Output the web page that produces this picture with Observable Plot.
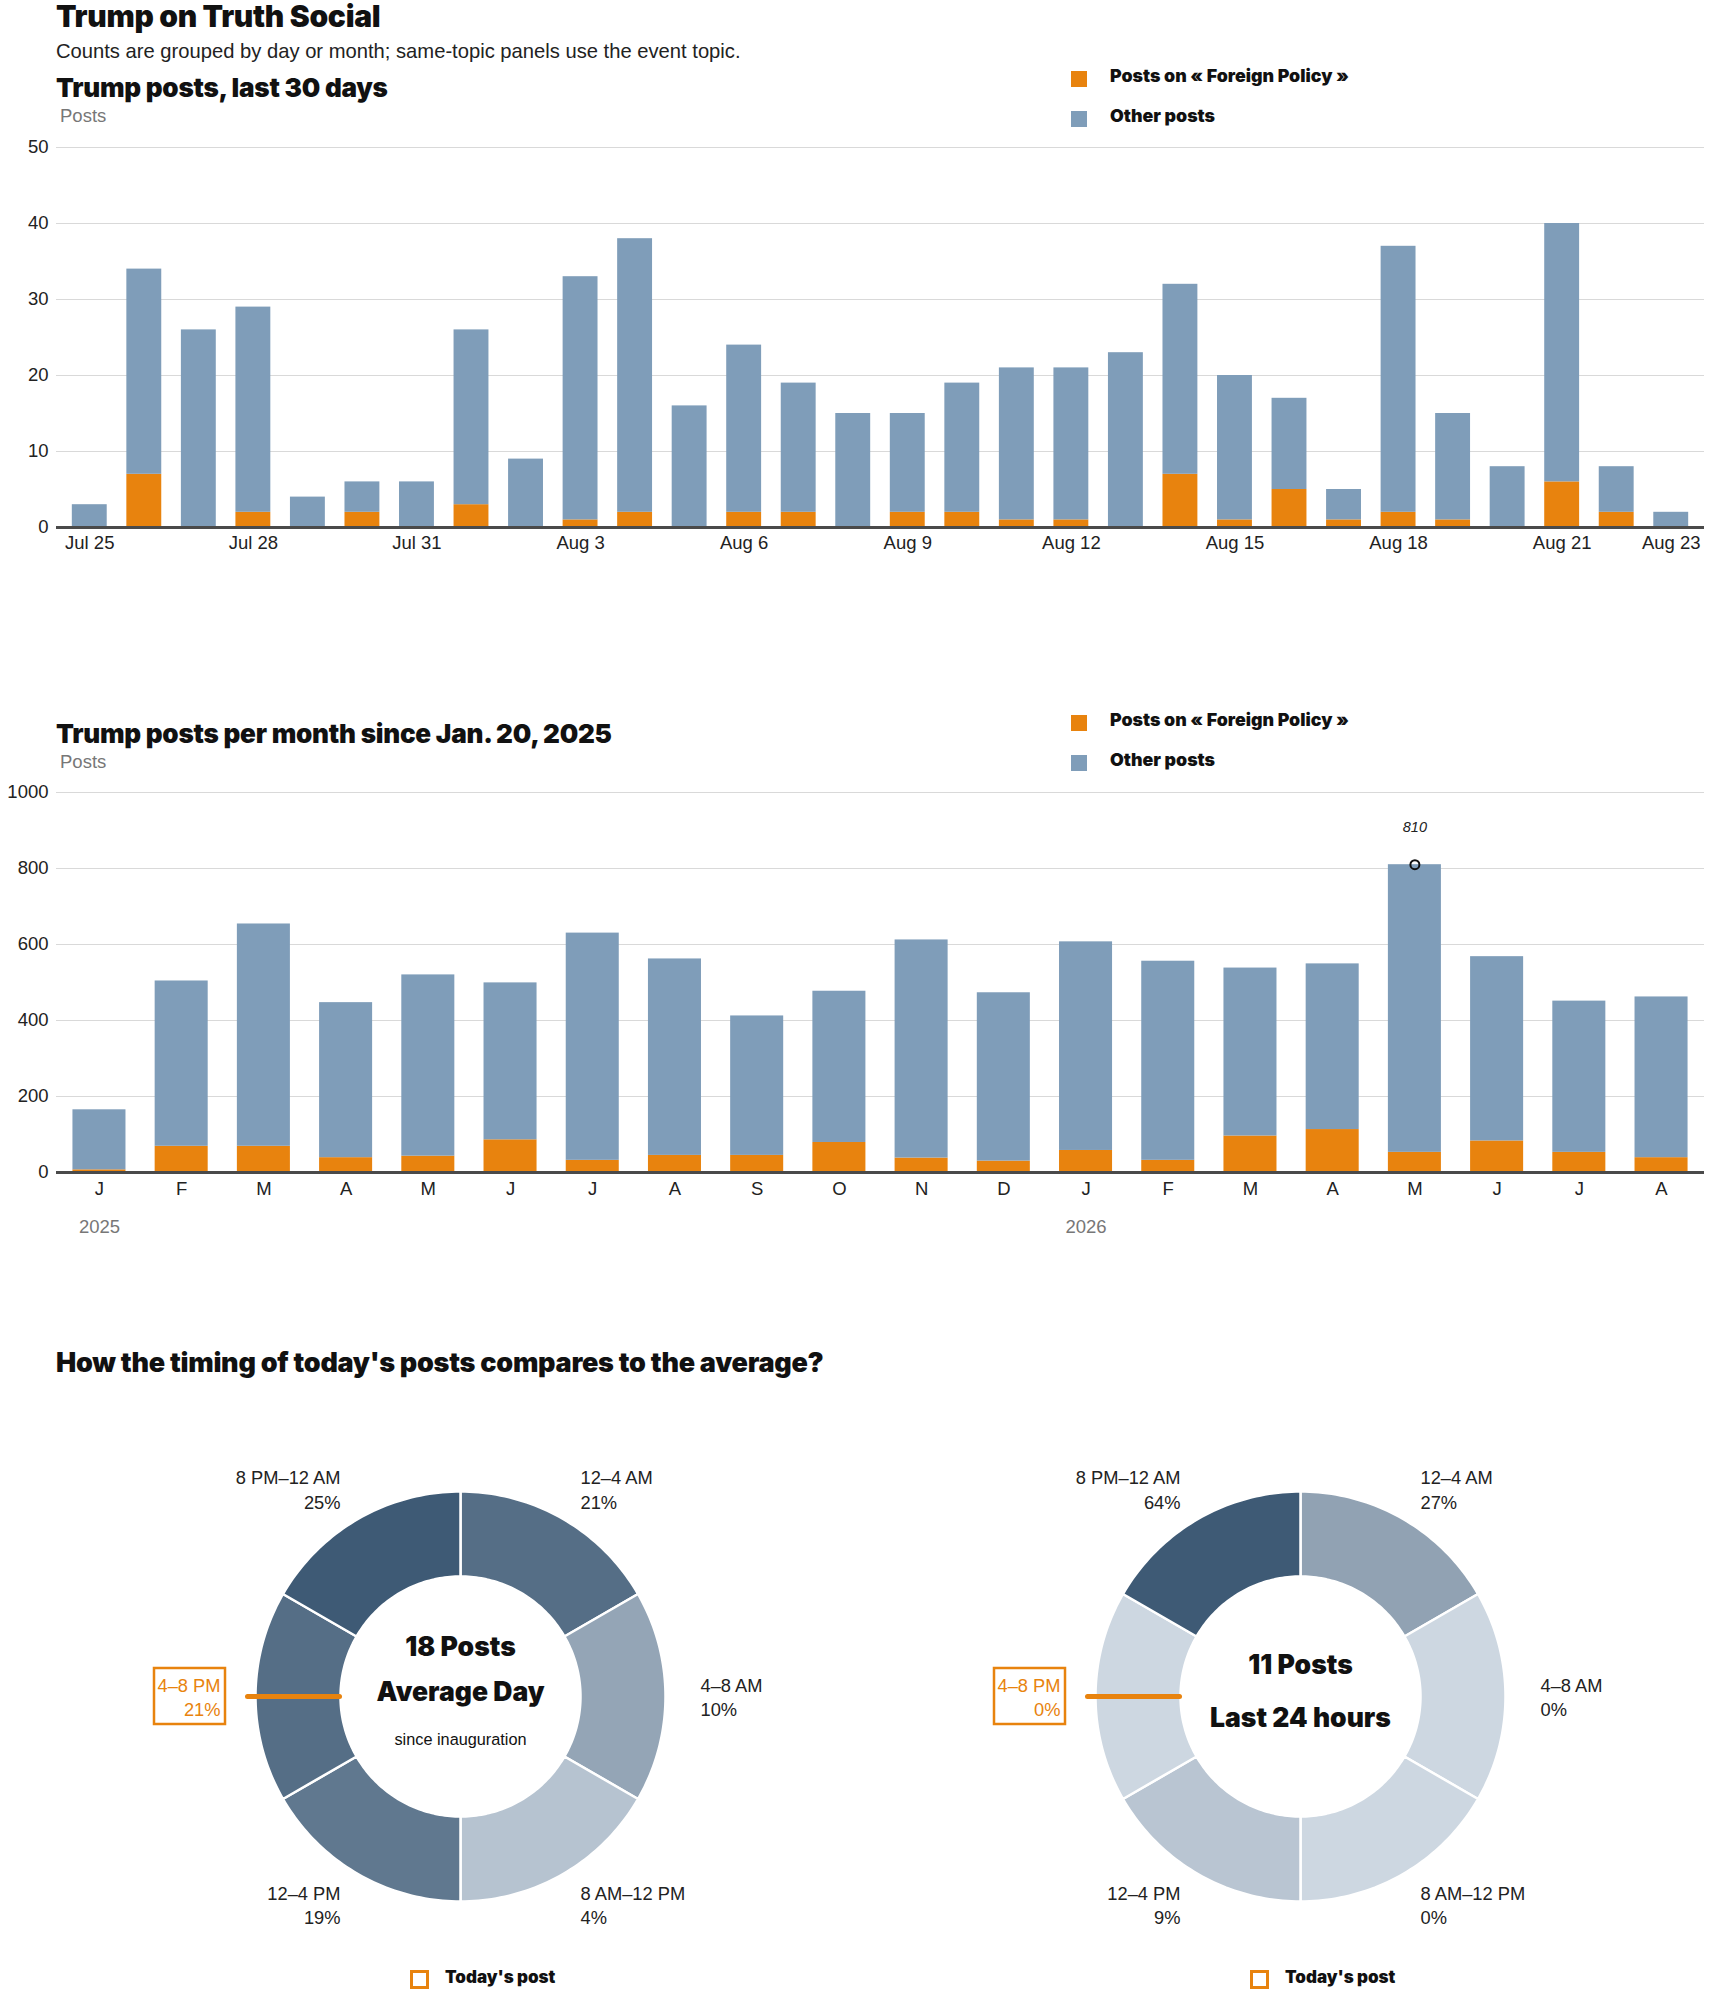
<!DOCTYPE html>
<html>
<head>
<meta charset="utf-8">
<script src="https://cdn.jsdelivr.net/npm/d3@7"></script>
<script src="https://cdn.jsdelivr.net/npm/@observablehq/plot@0.6"></script>
<style>
  html, body { margin: 0; padding: 0; background: #fff; }
  body { width: 1710px; height: 1993px; position: relative; overflow: hidden;
         font-family: "Liberation Sans", Arial, sans-serif; color: #111; }
  .abs { position: absolute; white-space: nowrap; }
  .head { font-family: Inter, "Liberation Sans", sans-serif; font-weight: 900; color: #111; letter-spacing: -0.01em; }
  .sub { font-size: 20.2px; color: #222; }
  .unit { font-size: 18.5px; color: #777; }
  .lg-sq { position: absolute; width: 16px; height: 16px; }
  .lg-tx { font-family: Inter, "Liberation Sans", sans-serif; font-weight: 900; font-size: 17.8px; color: #111; }
  .today-sq { position: absolute; width: 13px; height: 13px; border: 3px solid #e8830e; background: #fff; }
  svg { overflow: visible; }
</style>
</head>
<body>
<div id="root"></div>
<script>
// ---------------- DATA ----------------
const seriesNames = ["Posts on « Foreign Policy »", "Other posts"];

// Daily, last 30 days
const dayLabels = ["Jul 25","Jul 26","Jul 27","Jul 28","Jul 29","Jul 30","Jul 31",
  "Aug 1","Aug 2","Aug 3","Aug 4","Aug 5","Aug 6","Aug 7","Aug 8","Aug 9","Aug 10",
  "Aug 11","Aug 12","Aug 13","Aug 14","Aug 15","Aug 16","Aug 17","Aug 18","Aug 19",
  "Aug 20","Aug 21","Aug 22","Aug 23"];
const dailyTotal   = [3,34,26,29,4,6,6,26,9,33,38,16,24,19,15,15,19,21,21,23,32,20,17,5,37,15,8,40,8,2];
const dailyForeign = [0,7,0,2,0,2,0,3,0,1,2,0,2,2,0,2,2,1,1,0,7,1,5,1,2,1,0,6,2,0];
const dailyTickLabels = ["Jul 25","Jul 28","Jul 31","Aug 3","Aug 6","Aug 9","Aug 12","Aug 15","Aug 18","Aug 21","Aug 23"];
const dailyYTicks = [0,10,20,30,40,50];

// Monthly since Jan. 20, 2025
const monthKeys = ["2025-01","2025-02","2025-03","2025-04","2025-05","2025-06","2025-07","2025-08",
  "2025-09","2025-10","2025-11","2025-12","2026-01","2026-02","2026-03","2026-04","2026-05",
  "2026-06","2026-07","2026-08"];
const monthInitials = ["J","F","M","A","M","J","J","A","S","O","N","D","J","F","M","A","M","J","J","A"];
const monthlyTotal   = [165,504,654,447,520,499,630,562,412,477,612,473,607,556,538,549,810,568,451,462];
const monthlyForeign = [7,69,69,39,43,86,32,45,45,79,38,30,58,32,96,113,53,83,53,39];
const monthlyYTicks = [0,200,400,600,800,1000];
const yearTicks = ["2025-01","2026-01"];
const yearLabels = ["2025","2026"];

// Time-of-day donuts
const slotNames = ["12–4 AM","4–8 AM","8 AM–12 PM","12–4 PM","4–8 PM","8 PM–12 AM"];
const avgPct   = [21,10,4,19,21,25];
const todayPct = [27,0,0,9,0,64];
const avgPosts = 18;
const todayPosts = 11;
const currentSlot = "4–8 PM";

// ---------------- STYLE ----------------
const ORANGE = "#e8830e", BLUE = "#7f9db9";
const FONT = "'Liberation Sans', Arial, sans-serif";
const HFONT = "Inter, 'Liberation Sans', sans-serif";
const root = document.getElementById("root");

function addDiv(html, cls, left, top, extra = "") {
  const d = document.createElement("div");
  d.className = "abs " + cls;
  d.style.left = left + "px";
  d.style.top = top + "px";
  if (extra) d.style.cssText += extra;
  d.innerHTML = html;
  root.appendChild(d);
  return d;
}
function place(node, left, top) {
  const w = document.createElement("div");
  w.className = "abs";
  w.style.left = left + "px"; w.style.top = top + "px";
  w.appendChild(node); root.appendChild(w);
}
function legend(top) {
  const sq1 = document.createElement("div"); sq1.className = "lg-sq";
  sq1.style.cssText += `left:1071px;top:${top - 7}px;background:${ORANGE}`; root.appendChild(sq1);
  const sq2 = document.createElement("div"); sq2.className = "lg-sq";
  sq2.style.cssText += `left:1071px;top:${top + 33}px;background:${BLUE}`; root.appendChild(sq2);
  addDiv(seriesNames[0], "lg-tx", 1110, top - 12, "line-height:20px");
  addDiv(seriesNames[1], "lg-tx", 1110, top + 28, "line-height:20px");
}

// ---------------- HEADERS ----------------
addDiv("Trump on Truth Social", "head", 56, 1, "font-size:30px;line-height:30px");
addDiv("Counts are grouped by day or month; same-topic panels use the event topic.", "sub", 56, 40, "line-height:22px");
addDiv("Trump posts, last 30 days", "head", 56, 75, "font-size:26.1px;line-height:26px");
addDiv("Posts", "unit", 60, 106, "line-height:20px");
legend(78);

addDiv("Trump posts per month since Jan. 20, 2025", "head", 56, 721, "font-size:26.1px;line-height:26px");
addDiv("Posts", "unit", 60, 752, "line-height:20px");
legend(722);

addDiv("How the timing of today's posts compares to the average?", "head", 56, 1350, "font-size:27px;line-height:26px");

// ---------------- CHART 1: daily ----------------
const dailyRows = [];
dayLabels.forEach((d, i) => {
  dailyRows.push({x: d, s: seriesNames[0], v: dailyForeign[i]});
  dailyRows.push({x: d, s: seriesNames[1], v: dailyTotal[i] - dailyForeign[i]});
});
const chart1 = Plot.plot({
  width: 1710, height: 430, marginTop: 17, marginRight: 6, marginBottom: 33, marginLeft: 56,
  style: {fontFamily: FONT, fontSize: "18.5px", color: "#222", background: "none", overflow: "visible"},
  x: {type: "band", domain: dayLabels, paddingInner: 0.36, paddingOuter: 0.29, round: false, axis: null},
  y: {domain: [0, 50], axis: null},
  color: {domain: seriesNames, range: [ORANGE, BLUE]},
  marks: [
    Plot.gridY(dailyYTicks, {stroke: "#d9d9d9", strokeOpacity: 1, strokeWidth: 1.2}),
    Plot.axisY(dailyYTicks, {tickSize: 0, tickPadding: 8, label: null}),
    Plot.barY(dailyRows, {x: "x", y: "v", fill: "s"}),
    Plot.ruleY([0], {stroke: "#4a4a4a", strokeWidth: 3}),
    Plot.axisX(dailyTickLabels, {tickSize: 0, tickPadding: 8, label: null})
  ]
});
place(chart1, 0, 130);

// ---------------- CHART 2: monthly ----------------
const monthlyRows = [];
monthKeys.forEach((m, i) => {
  monthlyRows.push({x: m, s: seriesNames[0], v: monthlyForeign[i]});
  monthlyRows.push({x: m, s: seriesNames[1], v: monthlyTotal[i] - monthlyForeign[i]});
});
const peakIdx = d3.maxIndex(monthlyTotal);
const peak = [{x: monthKeys[peakIdx], v: monthlyTotal[peakIdx]}];
const chart2 = Plot.plot({
  width: 1710, height: 472, marginTop: 22, marginRight: 6, marginBottom: 70, marginLeft: 56,
  style: {fontFamily: FONT, fontSize: "18.5px", color: "#222", background: "none", overflow: "visible"},
  x: {type: "band", domain: monthKeys, paddingInner: 0.355, paddingOuter: 0.2, round: false, axis: null},
  y: {domain: [0, 1000], axis: null},
  color: {domain: seriesNames, range: [ORANGE, BLUE]},
  marks: [
    Plot.gridY(monthlyYTicks, {stroke: "#d9d9d9", strokeOpacity: 1, strokeWidth: 1.2}),
    Plot.axisY(monthlyYTicks, {tickSize: 0, tickPadding: 8, label: null, tickFormat: d => String(d)}),
    Plot.barY(monthlyRows, {x: "x", y: "v", fill: "s"}),
    Plot.ruleY([0], {stroke: "#4a4a4a", strokeWidth: 3}),
    Plot.axisX(monthKeys, {tickSize: 0, tickPadding: 9, label: null,
      tickFormat: d => monthInitials[monthKeys.indexOf(d)]}),
    Plot.axisX(yearTicks, {tickSize: 0, tickPadding: 47, label: null, fill: "#777",
      tickFormat: d => yearLabels[yearTicks.indexOf(d)]}),
    Plot.dot(peak, {x: "x", y: "v", r: 4.5, stroke: "#111", strokeWidth: 2, fill: "none"}),
    Plot.text(peak, {x: "x", y: "v", text: d => String(d.v), dy: -37, fontStyle: "italic",
      fontSize: 14.5, fill: "#222"})
  ]
});
place(chart2, 0, 770);

// ---------------- DONUTS ----------------
const CY = 296, R_OUT = 205, R_IN = 120, R_LAB = 240;
const donuts = [
  {cx: 460, values: avgPct, center: [
     {t: `${avgPosts} Posts`, dy: -49, bold: true},
     {t: "Average Day", dy: -4, bold: true},
     {t: "since inauguration", dy: 43, bold: false}]},
  {cx: 1300, values: todayPct, center: [
     {t: `${todayPosts} Posts`, dy: -31, bold: true},
     {t: "Last 24 hours", dy: 22, bold: true}]}
];
const sectorPts = [], labels = [], centerTexts = [], boxes = [], pointers = [];
donuts.forEach((dn, k) => {
  const max = d3.max(dn.values);
  slotNames.forEach((s, i) => {
    const a0 = i * Math.PI / 3, a1 = (i + 1) * Math.PI / 3, N = 48;
    const ring = [];
    for (let j = 0; j <= N; j++) ring.push([R_OUT, a0 + (a1 - a0) * j / N]);
    for (let j = N; j >= 0; j--) ring.push([R_IN, a0 + (a1 - a0) * j / N]);
    ring.push(ring[0]);
    const t = max > 0 ? dn.values[i] / max : 0;
    ring.forEach(([r, a]) => sectorPts.push({id: k + "-" + i, t,
      x: dn.cx + r * Math.sin(a), y: CY - r * Math.cos(a)}));
    const mid = (a0 + a1) / 2;
    const lx = dn.cx + R_LAB * Math.sin(mid), ly = CY - R_LAB * Math.cos(mid);
    const cur = s === currentSlot;
    labels.push({x: lx, y: ly, text: `${s}\n${dn.values[i]}%`, right: Math.sin(mid) > 0.01, cur});
    if (cur) {
      boxes.push({x1: lx - 66, x2: lx + 5, y1: ly - 28, y2: ly + 28});
      pointers.push({x1: dn.cx + 213 * Math.sin(mid), y1: CY - 213 * Math.cos(mid),
                     x2: dn.cx + 121 * Math.sin(mid), y2: CY - 121 * Math.cos(mid)});
    }
  });
  dn.center.forEach(c => centerTexts.push({x: dn.cx, y: CY + c.dy, text: c.t, bold: c.bold}));
});

const donutPlot = Plot.plot({
  width: 1710, height: 560, margin: 0,
  style: {fontFamily: FONT, fontSize: "18.3px", color: "#222", background: "none", overflow: "visible"},
  x: {domain: [0, 1710], range: [0, 1710], axis: null},
  y: {domain: [0, 560], range: [0, 560], axis: null},
  color: {type: "linear", domain: [0, 1], range: ["#cdd7e1", "#3e5a75"], interpolate: "rgb"},
  marks: [
    Plot.line(sectorPts, {x: "x", y: "y", z: "id", fill: "t", stroke: "white", strokeWidth: 2.5, curve: "linear"}),
    Plot.text(labels.filter(d => d.right && !d.cur), {x: "x", y: "y", text: "text", textAnchor: "start", lineHeight: 1.33, fill: "#222"}),
    Plot.text(labels.filter(d => !d.right && !d.cur), {x: "x", y: "y", text: "text", textAnchor: "end", lineHeight: 1.33, fill: "#222"}),
    Plot.text(labels.filter(d => d.cur), {x: "x", y: "y", text: "text", textAnchor: "end", lineHeight: 1.33, fill: ORANGE}),
    Plot.rect(boxes, {x1: "x1", x2: "x2", y1: "y1", y2: "y2", fill: "none", stroke: ORANGE, strokeWidth: 2.5}),
    Plot.link(pointers, {x1: "x1", y1: "y1", x2: "x2", y2: "y2", stroke: ORANGE, strokeWidth: 5, strokeLinecap: "round"}),
    Plot.text(centerTexts.filter(d => d.bold), {x: "x", y: "y", text: "text", fontSize: 26.5,
      fontWeight: 900, fontFamily: HFONT, fill: "#111"}),
    Plot.text(centerTexts.filter(d => !d.bold), {x: "x", y: "y", text: "text", fontSize: 16.3, fill: "#111"})
  ]
});
place(donutPlot, 0, 1400);

// "Today's post" keys
donuts.forEach(dn => {
  const sq = document.createElement("div"); sq.className = "today-sq";
  sq.style.left = (dn.cx - 50) + "px"; sq.style.top = "1970px"; root.appendChild(sq);
  addDiv("Today's post", "lg-tx", dn.cx - 15, 1967, "line-height:20px;font-size:17px");
});
</script>
</body>
</html>
